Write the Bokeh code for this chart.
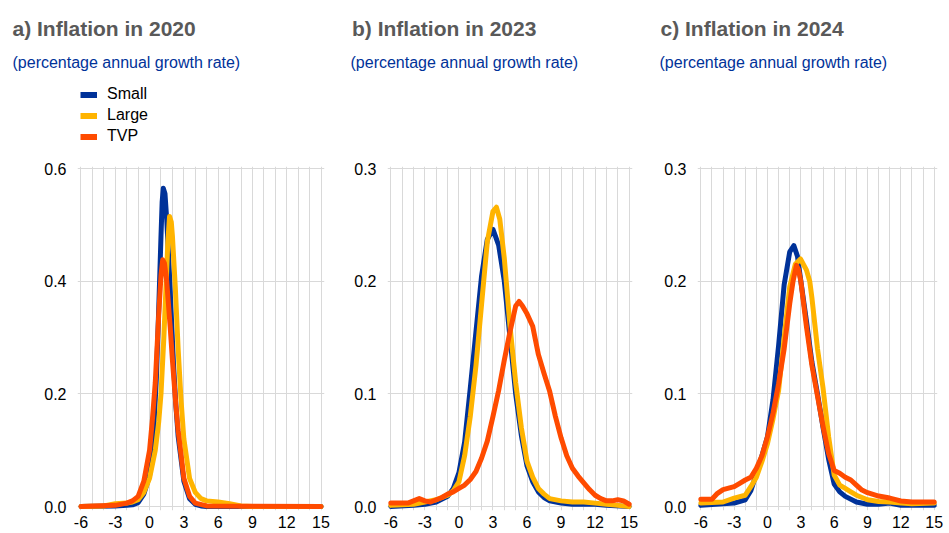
from bokeh.plotting import figure
from bokeh.layouts import row, column
from bokeh.models import Range1d, FixedTicker, PrintfTickFormatter, Label, Legend, LegendItem
from bokeh.embed import file_html
from bokeh.resources import INLINE

# ---------------- data ----------------
series_names = ["Small", "Large", "TVP"]
x_ticks = [-6, -3, 0, 3, 6, 9, 12, 15]
panel_titles = ["a) Inflation in 2020", "b) Inflation in 2023", "c) Inflation in 2024"]
subtitle = "(percentage annual growth rate)"
y_ticks_a = [0.0, 0.2, 0.4, 0.6]
y_ticks_bc = [0.0, 0.1, 0.2, 0.3]

# Panel a (2020)
a_small_x = [-6, -3, -2, -1.5, -1, -0.5, 0, 0.3, 0.6, 0.8, 1.0, 1.1, 1.2, 1.35, 1.5, 1.7, 1.9, 2.1, 2.3, 2.5, 3.0, 3.5, 4.0, 4.5, 5, 15]
a_small_y = [0, 0.001, 0.002, 0.003, 0.007, 0.022, 0.055, 0.11, 0.23, 0.35, 0.48, 0.54, 0.565, 0.555, 0.51, 0.43, 0.34, 0.25, 0.18, 0.125, 0.045, 0.014, 0.004, 0.001, 0, 0]
a_large_x = [-6, -4, -3, -2, -1.5, -1, -0.5, 0, 0.5, 0.8, 1.0, 1.25, 1.5, 1.6, 1.75, 1.9, 2.0, 2.25, 2.5, 2.75, 3.0, 3.5, 4.0, 4.5, 5, 6, 7, 8, 9, 15]
a_large_y = [0, 0.001, 0.005, 0.006, 0.008, 0.012, 0.025, 0.05, 0.1, 0.15, 0.2, 0.3, 0.42, 0.47, 0.515, 0.505, 0.48, 0.39, 0.28, 0.19, 0.12, 0.05, 0.025, 0.014, 0.01, 0.008, 0.005, 0.001, 0, 0]
a_tvp_x = [-6, -3, -2, -1.5, -1, -0.5, 0, 0.25, 0.5, 0.8, 1.0, 1.15, 1.3, 1.5, 1.8, 2.0, 2.3, 2.5, 3.0, 3.5, 4.0, 5, 15]
a_tvp_y = [0, 0.002, 0.006, 0.01, 0.018, 0.045, 0.1, 0.155, 0.22, 0.34, 0.41, 0.438, 0.432, 0.4, 0.32, 0.26, 0.18, 0.135, 0.05, 0.018, 0.006, 0.001, 0]

# Panel b (2023)
b_small_x = [-6, -4, -3, -2, -1, -0.5, 0, 0.5, 1, 1.5, 2, 2.5, 3, 3.5, 4, 4.5, 5, 5.5, 6, 6.5, 7, 7.5, 8, 9, 10, 11, 12, 13, 15]
b_small_y = [0.0, 0.001, 0.002, 0.004, 0.009, 0.016, 0.03, 0.057, 0.105, 0.155, 0.205, 0.237, 0.246, 0.232, 0.2, 0.15, 0.1, 0.063, 0.036, 0.022, 0.013, 0.008, 0.005, 0.003, 0.002, 0.002, 0.002, 0.001, 0.0]
b_large_x = [-6, -4, -3, -2, -1, -0.5, 0, 0.5, 1, 1.5, 2, 2.5, 3, 3.3, 3.6, 4, 4.5, 5, 5.5, 6, 6.5, 7, 7.5, 8, 9, 10, 11, 12, 13, 14, 15]
b_large_y = [0.001, 0.002, 0.004, 0.006, 0.01, 0.014, 0.022, 0.045, 0.08, 0.125, 0.18, 0.235, 0.262, 0.2656, 0.255, 0.22, 0.16, 0.11, 0.07, 0.04, 0.026, 0.016, 0.011, 0.007, 0.005, 0.004, 0.004, 0.003, 0.002, 0.001, 0.0]
b_tvp_x = [-6, -5, -4.5, -4, -3.5, -3, -2.5, -2, -1.5, -1, -0.5, 0, 0.5, 1, 1.5, 2, 2.5, 3, 3.5, 4, 4.5, 5, 5.3, 5.6, 6, 6.5, 7, 7.5, 8, 8.5, 9, 9.5, 10, 10.5, 11, 11.5, 12, 12.5, 13, 13.5, 14, 14.5, 15]
b_tvp_y = [0.003, 0.003, 0.003, 0.005, 0.007, 0.005, 0.004, 0.006, 0.008, 0.011, 0.013, 0.016, 0.019, 0.024, 0.031, 0.043, 0.058, 0.08, 0.103, 0.13, 0.155, 0.178, 0.182, 0.178, 0.171, 0.16, 0.135, 0.118, 0.102, 0.08, 0.061, 0.045, 0.034, 0.027, 0.021, 0.015, 0.01, 0.007, 0.005, 0.005, 0.006, 0.005, 0.002]

# Panel c (2024)
c_small_x = [-6, -3, -2, -1.5, -1, -0.5, 0, 0.5, 1, 1.5, 2, 2.37, 2.7, 3, 3.5, 4, 4.5, 5, 5.5, 6, 6.5, 7, 8, 9, 10, 11, 12, 15]
c_small_y = [0.001, 0.003, 0.006, 0.014, 0.029, 0.045, 0.062, 0.095, 0.143, 0.197, 0.226, 0.2315, 0.222, 0.2, 0.165, 0.128, 0.1, 0.07, 0.042, 0.02, 0.013, 0.009, 0.004, 0.002, 0.002, 0.003, 0.001, 0.001]
c_large_x = [-6, -4, -3, -2, -1.5, -1, -0.5, 0, 0.5, 1, 1.5, 2, 2.5, 2.97, 3.5, 3.8, 4, 4.5, 5, 5.5, 6, 6.5, 7, 7.5, 8, 9, 10, 11, 12, 13, 15]
c_large_y = [0.003, 0.004, 0.0075, 0.01, 0.0176, 0.026, 0.04, 0.056, 0.078, 0.103, 0.15, 0.195, 0.215, 0.2197, 0.21, 0.2, 0.185, 0.14, 0.105, 0.062, 0.028, 0.019, 0.016, 0.013, 0.01, 0.006, 0.0045, 0.004, 0.003, 0.0025, 0.003]
c_tvp_x = [-6, -5, -4.5, -4, -3, -2.5, -2, -1.5, -1, -0.5, 0, 0.5, 1, 1.5, 2, 2.3, 2.6, 2.8, 3, 3.5, 4, 4.5, 5, 5.5, 6, 6.5, 7, 7.5, 8, 8.5, 9, 10, 11, 12, 13, 14, 15]
c_tvp_y = [0.0064, 0.0064, 0.0117, 0.015, 0.0176, 0.0206, 0.0235, 0.026, 0.034, 0.045, 0.062, 0.083, 0.109, 0.14, 0.18, 0.2, 0.214, 0.21, 0.2, 0.16, 0.125, 0.098, 0.071, 0.047, 0.032, 0.0295, 0.026, 0.0235, 0.019, 0.0146, 0.0123, 0.0093, 0.0075, 0.0049, 0.004, 0.004, 0.004]

# ---------------- style ----------------
FONT = "Liberation Sans"
COLORS = ["#003299", "#ffb400", "#ff4b00"]
GRID = "#d9d9d9"
FRAME_H = 344
HEADER_H = 156
TOTAL_W = 945


def make_panel(x0, x1, frame_w, ymax, yticks, data, l_border, r_border):
    y0 = -4 * ymax / 338.0
    y1 = ymax + 2 * ymax / 338.0
    p = figure(frame_width=frame_w, frame_height=FRAME_H,
               x_range=Range1d(x0, x1), y_range=Range1d(y0, y1),
               output_backend="svg", toolbar_location=None,
               min_border_left=l_border, min_border_right=r_border,
               min_border_top=10, min_border_bottom=5)
    p.background_fill_color = "white"
    p.border_fill_color = "white"
    p.outline_line_color = None

    p.xgrid.ticker = FixedTicker(ticks=list(range(-6, 16)))
    p.ygrid.ticker = FixedTicker(ticks=yticks)
    for g in (p.xgrid, p.ygrid):
        g.grid_line_color = GRID
        g.grid_line_width = 1

    p.xaxis.ticker = FixedTicker(ticks=x_ticks)
    p.xaxis.formatter = PrintfTickFormatter(format="%d")
    p.yaxis.ticker = FixedTicker(ticks=yticks)
    p.yaxis.formatter = PrintfTickFormatter(format="%.1f")
    for ax in (p.xaxis, p.yaxis):
        ax.axis_line_color = None
        ax.major_tick_line_color = None
        ax.minor_tick_line_color = None
        ax.major_tick_out = 0
        ax.major_tick_in = 0
        ax.major_label_text_font = FONT
        ax.major_label_text_font_size = "16px"
        ax.major_label_text_color = "#000000"
    p.xaxis.major_label_standoff = 5
    p.yaxis.major_label_standoff = 11

    for (xs, ys), col in zip(data, COLORS):
        p.line(xs, ys, line_color=col, line_width=5, line_join="round", line_cap="round")
    return p


pa = make_panel(-6.305, 15.305, 247, 0.6, y_ticks_a,
                [(a_small_x, a_small_y), (a_large_x, a_large_y), (a_tvp_x, a_tvp_y)], 77, 8)
pb = make_panel(-6.294, 15.294, 245, 0.3, y_ticks_bc,
                [(b_small_x, b_small_y), (b_large_x, b_large_y), (b_tvp_x, b_tvp_y)], 55, 8)
pc = make_panel(-6.3, 15.3, 240, 0.3, y_ticks_bc,
                [(c_small_x, c_small_y), (c_large_x, c_large_y), (c_tvp_x, c_tvp_y)], 57, 8)

# ---------------- header (titles, subtitles, legend) ----------------
header = figure(width=TOTAL_W, height=HEADER_H, x_range=Range1d(0, TOTAL_W), y_range=Range1d(HEADER_H, 0),
                x_axis_type=None, y_axis_type=None, output_backend="svg", toolbar_location=None,
                min_border=0)
header.grid.visible = False
header.outline_line_color = None
header.background_fill_color = "white"
header.border_fill_color = "white"

title_x = [12, 351.5, 660]
sub_x = [12, 350, 659]
for tx, sx, t in zip(title_x, sub_x, panel_titles):
    header.add_layout(Label(x=tx, y=28.3, text=t, text_font=FONT, text_font_size="21px",
                            text_font_style="bold", text_color="#595959", text_baseline="alphabetic"))
    header.add_layout(Label(x=sx, y=61.7, text=subtitle, text_font=FONT, text_font_size="16px",
                            text_color="#003299", text_baseline="alphabetic"))

# legend proxies: lines lying outside the header's visible range, only their legend swatches show
legend_renderers = [header.line([-50, -40], [-50, -50], line_color=c, line_width=6) for c in COLORS]
items = [LegendItem(label=n, renderers=[r]) for n, r in zip(series_names, legend_renderers)]
leg = Legend(items=items, location=(80, HEADER_H - 146.5), orientation="vertical",
             background_fill_alpha=0, border_line_color=None,
             padding=0, margin=0, spacing=0,
             glyph_width=17, glyph_height=21, label_height=21, label_standoff=10,
             label_text_font=FONT, label_text_font_size="16px", label_text_color="#000000")
header.add_layout(leg)

layout = column(header, row(pa, pb, pc))
open("out.html", "w").write(file_html(layout, INLINE))
